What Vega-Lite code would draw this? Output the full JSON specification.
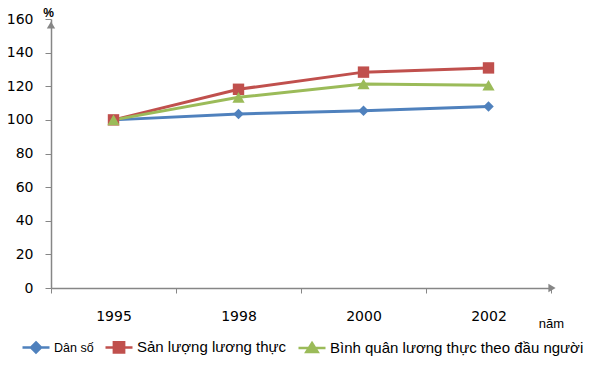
{
  "$schema": "https://vega.github.io/schema/vega-lite/v6.json",
  "width": 500,
  "height": 269,
  "autosize": {"type": "none"},
  "padding": {"left": 51, "top": 19, "right": 46, "bottom": 81},
  "background": "white",
  "config": {"view": {"stroke": null}, "font": "DejaVu Sans"},
  "data": {
    "values": [
      {"year": "1995", "series": "Dân số", "value": 100},
      {"year": "1998", "series": "Dân số", "value": 103.5},
      {"year": "2000", "series": "Dân số", "value": 105.4},
      {"year": "2002", "series": "Dân số", "value": 108.0},
      {"year": "1995", "series": "Sản lượng lương thực", "value": 100},
      {"year": "1998", "series": "Sản lượng lương thực", "value": 118.2},
      {"year": "2000", "series": "Sản lượng lương thực", "value": 128.4},
      {"year": "2002", "series": "Sản lượng lương thực", "value": 130.9},
      {"year": "1995", "series": "Bình quân lương thực theo đầu người", "value": 100},
      {"year": "1998", "series": "Bình quân lương thực theo đầu người", "value": 113.4},
      {"year": "2000", "series": "Bình quân lương thực theo đầu người", "value": 121.3},
      {"year": "2002", "series": "Bình quân lương thực theo đầu người", "value": 120.6}
    ]
  },
  "encoding": {
    "x": {
      "field": "year", "type": "nominal", "bandPosition": 0.5,
      "scale": {"type": "band", "paddingInner": 0, "paddingOuter": 0},
      "axis": {
        "title": "năm", "titleX": 500, "titleY": 35, "titleAlign": "center", "titleBaseline": "middle",
        "titleFont": "Liberation Sans", "titleFontSize": 13, "titleFontWeight": "normal", "titleColor": "#000",
        "labelAngle": 0, "labelPadding": 16, "labelFontSize": 14, "labelColor": "#000",
        "tickBand": "extent", "tickSize": 5, "domainColor": "#868686", "tickColor": "#868686", "domainWidth": 1.5, "grid": false
      }
    },
    "y": {
      "field": "value", "type": "quantitative",
      "scale": {"domain": [0, 160]},
      "axis": {
        "title": "%", "titleAngle": 0, "titleX": -3, "titleY": -7, "titleAlign": "center", "titleBaseline": "middle",
        "titleFont": "Liberation Sans", "titleFontSize": 12, "titleFontWeight": "bold", "titleColor": "#000",
        "values": [0, 20, 40, 60, 80, 100, 120, 140, 160], "grid": false,
        "domainColor": "#868686", "tickColor": "#868686", "tickSize": 6, "domainWidth": 1.5,
        "labelPadding": 12, "labelFontSize": 14, "labelColor": "#000"
      }
    }
  },
  "layer": [
    {
      "mark": {"type": "line", "strokeWidth": 3},
      "encoding": {
        "color": {
          "field": "series", "type": "nominal",
          "scale": {"domain": ["Dân số", "Sản lượng lương thực", "Bình quân lương thực theo đầu người"], "range": ["#4F81BD", "#C0504D", "#9BBB59"]},
          "legend": {
            "orient": "none", "legendX": -30, "legendY": 313, "direction": "horizontal", "title": null, "padding": 0,
            "labelFont": "Liberation Sans", "labelFontSize": 15, "labelColor": "#000", "labelLimit": 400,
            "symbolSize": 729, "symbolStrokeWidth": 2.5,
            "columnPadding": 6, "labelOffset": 3,
            "encode": {
              "labels": {
                "update": {
                  "fontSize": {"signal": "datum.value === 'Dân số' ? 12.5 : 15"}
                }
              },
              "symbols": {
                "update": {
                  "shape": {"signal": "datum.value === 'Dân số' ? 'M-1,0H1M0,-0.37L0.37,0L0,0.37L-0.37,0Z' : datum.value === 'Sản lượng lương thực' ? 'M-1,0H1M-0.38,-0.38H0.38V0.38H-0.38Z' : 'M-1,0H1M0,-0.37L0.42,0.3H-0.42Z'"},
                  "stroke": {"signal": "scale('color', datum.value)"},
                  "fill": {"signal": "scale('color', datum.value)"},
                  "size": {"value": 729},
                  "strokeWidth": {"value": 2.5},
                  "opacity": {"value": 1}
                }
              }
            }
          }
        }
      }
    },
    {
      "mark": {"type": "point", "filled": true, "opacity": 1},
      "encoding": {
        "color": {
          "field": "series", "type": "nominal",
          "scale": {"domain": ["Dân số", "Sản lượng lương thực", "Bình quân lương thực theo đầu người"], "range": ["#4F81BD", "#C0504D", "#9BBB59"]},
          "legend": null
        },
        "shape": {
          "field": "series", "type": "nominal",
          "scale": {"domain": ["Dân số", "Sản lượng lương thực", "Bình quân lương thực theo đầu người"], "range": ["diamond", "square", "triangle-up"]},
          "legend": null
        },
        "size": {
          "field": "series", "type": "nominal",
          "scale": {"domain": ["Dân số", "Sản lượng lương thực", "Bình quân lương thực theo đầu người"], "range": [110, 150, 170]},
          "legend": null
        }
      }
    },
    {
      "data": {"values": [{"ax": "1995", "ay": 160}]},
      "mark": {"type": "point", "shape": "triangle-up", "filled": true, "color": "#868686", "size": 70, "yOffset": 6, "opacity": 1},
      "encoding": {"x": {"field": "ax", "type": "nominal", "bandPosition": 0}, "y": {"field": "ay", "type": "quantitative"}}
    },
    {
      "data": {"values": [{"ax": "2002", "ay": 0}]},
      "mark": {"type": "point", "shape": "triangle-right", "filled": true, "color": "#868686", "size": 70, "xOffset": 1, "opacity": 1},
      "encoding": {"x": {"field": "ax", "type": "nominal", "bandPosition": 1}, "y": {"field": "ay", "type": "quantitative"}}
    }
  ],
  "resolve": {"legend": {"color": "independent"}}
}
